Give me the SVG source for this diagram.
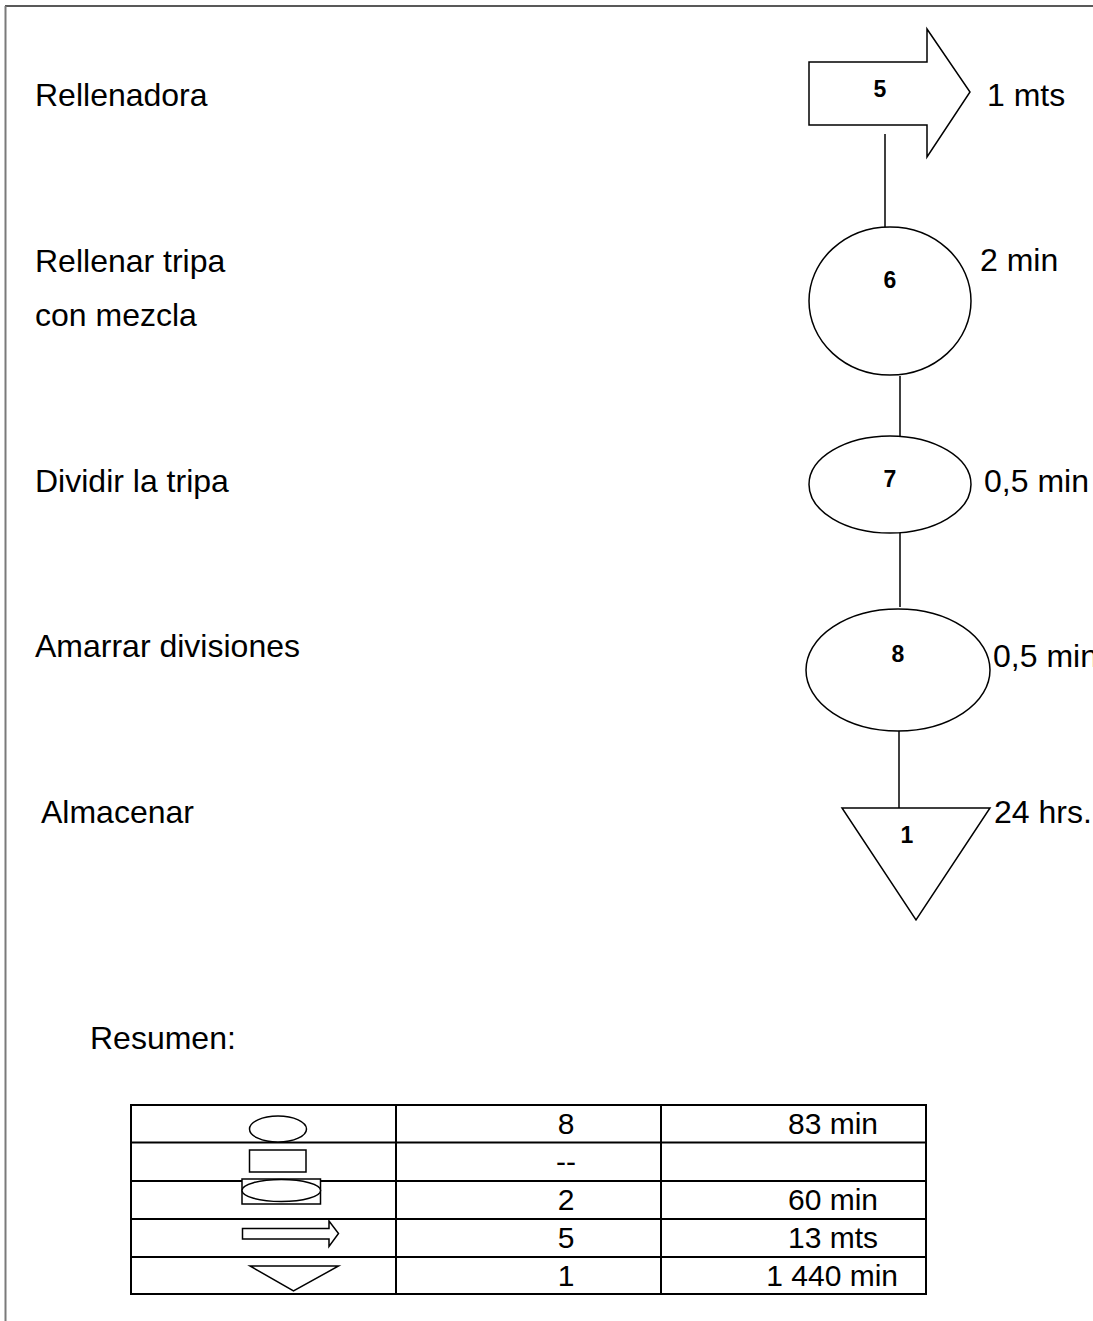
<svg xmlns="http://www.w3.org/2000/svg" width="1093" height="1321" viewBox="0 0 1093 1321">
  <style>
    .lbl { font-family: "Liberation Sans", Arial, sans-serif; font-size: 32px; fill: #000; }
    .num { font-family: "Liberation Sans", Arial, sans-serif; font-size: 23px; font-weight: bold; fill: #000; text-anchor: middle; }
    .cell { font-family: "Liberation Sans", Arial, sans-serif; font-size: 30px; fill: #000; }
    .shape { fill: #fff; stroke: #000; stroke-width: 1.5; }
    .icon { fill: #fff; stroke: #000; stroke-width: 1.5; }
    .conn { stroke: #000; stroke-width: 1.5; fill: none; }
    .grid { stroke: #000; stroke-width: 2; fill: none; }
  </style>

  <rect x="0" y="0" width="1093" height="1321" fill="#fff"/>

  <!-- page frame -->
  <g id="frame">
    <line x1="5" y1="6" x2="1093" y2="6" stroke="#222" stroke-width="1.5"/>
    <line x1="5.5" y1="6" x2="5.5" y2="1321" stroke="#7a7a7a" stroke-width="2"/>
  </g>

  <!-- step descriptions -->
  <g id="labels">
    <text class="lbl" x="35" y="106">Rellenadora</text>
    <text class="lbl" x="35" y="272">Rellenar tripa</text>
    <text class="lbl" x="35" y="326">con mezcla</text>
    <text class="lbl" x="35" y="492">Dividir la tripa</text>
    <text class="lbl" x="35" y="657">Amarrar divisiones</text>
    <text class="lbl" x="41" y="823">Almacenar</text>
  </g>

  <!-- connectors -->
  <g id="connectors">
    <line class="conn" x1="885" y1="134" x2="885" y2="227"/>
    <line class="conn" x1="900" y1="376" x2="900" y2="436"/>
    <line class="conn" x1="900" y1="533" x2="900" y2="607"/>
    <line class="conn" x1="899" y1="726" x2="899" y2="808"/>
  </g>

  <!-- transport 5 -->
  <g id="node-transport-5">
    <polygon class="shape" points="809,62 927,62 927,29 970,92 927,157 927,125 809,125"/>
    <text class="num" x="880" y="97">5</text>
    <text class="lbl" x="987" y="106">1 mts</text>
  </g>

  <!-- operation 6 -->
  <g id="node-op-6">
    <ellipse class="shape" cx="890" cy="301" rx="81" ry="74"/>
    <text class="num" x="890" y="288">6</text>
    <text class="lbl" x="980" y="271">2 min</text>
  </g>

  <!-- operation 7 -->
  <g id="node-op-7">
    <ellipse class="shape" cx="890" cy="484.5" rx="81" ry="48.5"/>
    <text class="num" x="890" y="487">7</text>
    <text class="lbl" x="984" y="492">0,5 min</text>
  </g>

  <!-- operation 8 -->
  <g id="node-op-8">
    <ellipse class="shape" cx="898" cy="670" rx="92" ry="61"/>
    <text class="num" x="898" y="662">8</text>
    <text class="lbl" x="993" y="667">0,5 min</text>
  </g>

  <!-- storage 1 -->
  <g id="node-storage-1">
    <polygon class="shape" points="842,808 990,808 916,920"/>
    <text class="num" x="907" y="843">1</text>
    <text class="lbl" x="994" y="823">24 hrs.</text>
  </g>

  <!-- summary -->
  <g id="summary">
    <text class="lbl" x="90" y="1049">Resumen:</text>

    <g id="summary-table">
      <rect class="grid" x="131" y="1105" width="795" height="189"/>
      <line class="grid" x1="131" y1="1142.5" x2="926" y2="1142.5"/>
      <line class="grid" x1="131" y1="1181" x2="926" y2="1181"/>
      <line class="grid" x1="131" y1="1219" x2="926" y2="1219"/>
      <line class="grid" x1="131" y1="1257" x2="926" y2="1257"/>
      <line class="grid" x1="396" y1="1105" x2="396" y2="1294"/>
      <line class="grid" x1="661" y1="1105" x2="661" y2="1294"/>

      <!-- symbol column -->
      <ellipse class="icon" cx="278" cy="1129" rx="28.5" ry="13"/>
      <rect class="icon" x="249.5" y="1150" width="56.5" height="22"/>
      <rect class="icon" x="242" y="1179" width="78.5" height="25"/>
      <ellipse class="icon" cx="281.3" cy="1190.5" rx="39.3" ry="11"/>
      <polygon class="icon" points="242.5,1228.5 329,1228.5 329,1221 338.5,1233.5 329,1246.5 329,1239 242.5,1239"/>
      <polygon class="icon" points="250,1266 338.5,1266 293.5,1291"/>

      <!-- counts -->
      <text class="cell" x="566" y="1134" text-anchor="middle">8</text>
      <text class="cell" x="566" y="1172" text-anchor="middle">--</text>
      <text class="cell" x="566" y="1210" text-anchor="middle">2</text>
      <text class="cell" x="566" y="1248" text-anchor="middle">5</text>
      <text class="cell" x="566" y="1286" text-anchor="middle">1</text>

      <!-- totals -->
      <text class="cell" x="878" y="1134" text-anchor="end">83 min</text>
      <text class="cell" x="878" y="1210" text-anchor="end">60 min</text>
      <text class="cell" x="878" y="1248" text-anchor="end">13 mts</text>
      <text class="cell" x="898" y="1286" text-anchor="end">1 440 min</text>
    </g>
  </g>
</svg>
